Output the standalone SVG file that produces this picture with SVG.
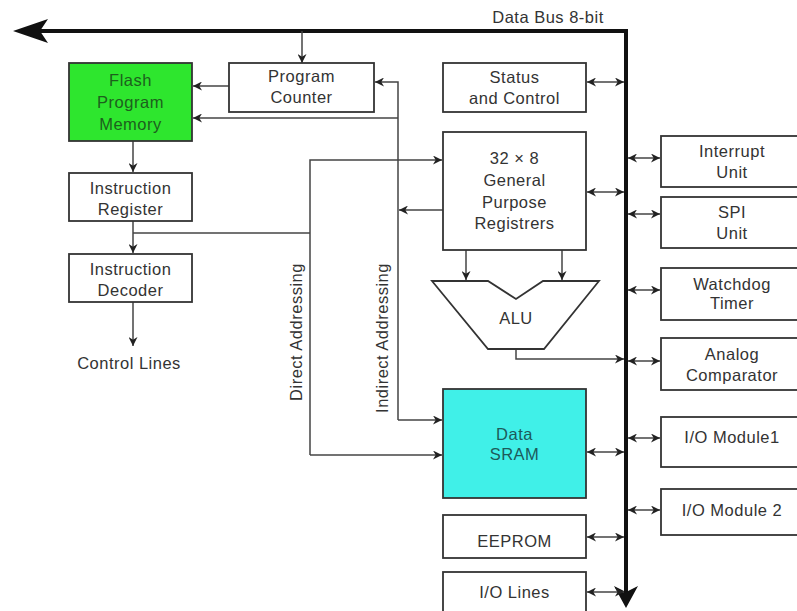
<svg xmlns="http://www.w3.org/2000/svg" width="797" height="611" viewBox="0 0 797 611">
<defs>
<style>
.box{fill:#fff;stroke:#333;stroke-width:1.8}
.t{font-family:"Liberation Sans",Arial,sans-serif;font-size:16.5px;letter-spacing:0.5px;fill:#333;text-anchor:middle}
.ln{fill:none;stroke:#444;stroke-width:1.5}
.a{marker-end:url(#ah)}
.b{marker-start:url(#ah);marker-end:url(#ah)}
.bus{fill:none;stroke:#111;stroke-width:4}
</style>
<marker id="ah" viewBox="0 0 10 10" refX="10" refY="5" markerWidth="9" markerHeight="9" markerUnits="userSpaceOnUse" orient="auto-start-reverse">
<path d="M0,0 L10,5 L0,10 L3,5 z" fill="#222"/>
</marker>
</defs>
<rect width="797" height="611" fill="#fff"/>

<g id="bus">
<path class="bus" d="M40,31 H626 V592"/>
<path d="M13,31 L48,19 L40,31 L48,43 z" fill="#111"/>
<path d="M626,608 L614,586 L626,592 L638,586 z" fill="#111"/>
<text class="t" x="548" y="23">Data Bus 8-bit</text>
</g>

<g id="connectors">
<path class="ln a" d="M302,31 V63"/>
<path class="ln a" d="M229,86 H193"/>
<path class="ln a" d="M398,118 H193"/>
<path class="ln a" d="M398,420 V82 H375"/>
<path class="ln a" d="M398,420 H442"/>
<path class="ln a" d="M443,210 H399"/>
<path class="ln a" d="M133,141 V172"/>
<path class="ln a" d="M133,221 V253"/>
<path class="ln" d="M133,233 H310"/>
<path class="ln a" d="M310,455 V160 H442"/>
<path class="ln a" d="M310,455 H442"/>
<path class="ln a" d="M133,302 V346"/>
<path class="ln a" d="M466,250 V280"/>
<path class="ln a" d="M562,250 V280"/>
<path class="ln a" d="M516,349 V359 H624"/>
<path class="ln b" d="M587,82 H624"/>
<path class="ln b" d="M587,192 H624"/>
<path class="ln b" d="M587,452 H624"/>
<path class="ln b" d="M587,537 H624"/>
<path class="ln b" d="M587,592 H624"/>
<path class="ln b" d="M628,158 H660"/>
<path class="ln b" d="M628,214 H660"/>
<path class="ln b" d="M628,290 H660"/>
<path class="ln b" d="M628,361 H660"/>
<path class="ln b" d="M628,438 H660"/>
<path class="ln b" d="M628,510 H660"/>
</g>

<g id="flash">
<rect x="69" y="63" width="123" height="78" style="fill:#2ee62e;stroke:#333;stroke-width:1.8"/>
<text class="t" x="130.5" y="86" style="fill:#1d5f1d">Flash</text>
<text class="t" x="130.5" y="108" style="fill:#1d5f1d">Program</text>
<text class="t" x="130.5" y="130" style="fill:#1d5f1d">Memory</text>
</g>
<g id="pc">
<rect class="box" x="229" y="63" width="145" height="49"/>
<text class="t" x="301.5" y="82">Program</text>
<text class="t" x="301.5" y="103">Counter</text>
</g>
<g id="ir">
<rect class="box" x="69" y="173" width="123" height="48"/>
<text class="t" x="130.5" y="194">Instruction</text>
<text class="t" x="130.5" y="215">Register</text>
</g>
<g id="id">
<rect class="box" x="69" y="254" width="123" height="48"/>
<text class="t" x="130.5" y="275">Instruction</text>
<text class="t" x="130.5" y="296">Decoder</text>
</g>
<g id="control">
<text class="t" x="129" y="369">Control Lines</text>
</g>
<g id="direct">
<text class="t" transform="translate(302,332) rotate(-90)">Direct Addressing</text>
</g>
<g id="indirect">
<text class="t" transform="translate(388,338) rotate(-90)">Indirect Addressing</text>
</g>
<g id="status">
<rect class="box" x="443" y="63" width="143" height="49"/>
<text class="t" x="514.5" y="83">Status</text>
<text class="t" x="514.5" y="104">and Control</text>
</g>
<g id="gpr">
<rect class="box" x="443" y="132" width="143" height="118"/>
<text class="t" x="514.5" y="164">32 × 8</text>
<text class="t" x="514.5" y="186">General</text>
<text class="t" x="514.5" y="208">Purpose</text>
<text class="t" x="514.5" y="229">Registrers</text>
</g>
<g id="alu">
<path d="M432,281 H488 L516,299 L543,281 H599 L544,349 H488 z" class="box"/>
<text class="t" x="516" y="324">ALU</text>
</g>
<g id="sram">
<rect x="443" y="389" width="143" height="109" style="fill:#40f0e8;stroke:#333;stroke-width:1.8"/>
<text class="t" x="514.5" y="440" style="fill:#1d5a5a">Data</text>
<text class="t" x="514.5" y="460" style="fill:#1d5a5a">SRAM</text>
</g>
<g id="eeprom">
<rect class="box" x="443" y="515" width="143" height="43"/>
<text class="t" x="514.5" y="547">EEPROM</text>
</g>
<g id="iolines">
<rect class="box" x="443" y="572" width="143" height="45"/>
<text class="t" x="514.5" y="598">I/O Lines</text>
</g>
<g id="interrupt">
<rect class="box" x="661" y="136" width="150" height="51"/>
<text class="t" x="732" y="157">Interrupt</text>
<text class="t" x="732" y="178">Unit</text>
</g>
<g id="spi">
<rect class="box" x="661" y="197" width="150" height="51"/>
<text class="t" x="732" y="218">SPI</text>
<text class="t" x="732" y="239">Unit</text>
</g>
<g id="watchdog">
<rect class="box" x="661" y="268" width="150" height="52"/>
<text class="t" x="732" y="290">Watchdog</text>
<text class="t" x="732" y="309">Timer</text>
</g>
<g id="analog">
<rect class="box" x="661" y="338" width="150" height="52"/>
<text class="t" x="732" y="360">Analog</text>
<text class="t" x="732" y="381">Comparator</text>
</g>
<g id="io1">
<rect class="box" x="661" y="417" width="150" height="50"/>
<text class="t" x="732" y="443">I/O Module1</text>
</g>
<g id="io2">
<rect class="box" x="661" y="489" width="150" height="46"/>
<text class="t" x="732" y="516">I/O Module 2</text>
</g>
</svg>
